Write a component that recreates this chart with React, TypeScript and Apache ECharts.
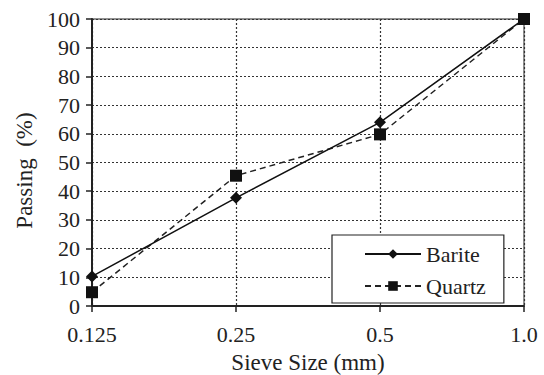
import React, { useEffect, useRef } from "react";
import * as echarts from "echarts";

const categories = ["0.125", "0.25", "0.5", "1.0"];
const barite = [10.3, 37.7, 64, 100];
const quartz = [4.8, 45.4, 59.8, 100];
const yTicks = { min: 0, max: 100, interval: 10 };

const FONT = "'Liberation Serif', 'Times New Roman', Times, serif";

export default function App() {
  const ref = useRef<HTMLDivElement>(null);
  useEffect(() => {
    document.body.style.margin = "0";
    if (!ref.current) return;
    const chart = echarts.init(ref.current, undefined, { renderer: "svg" });
    chart.setOption({
      animation: false,
      backgroundColor: "#fff",
      textStyle: { fontFamily: FONT, color: "#222" },
      grid: {
        left: 92,
        right: 20,
        top: 19,
        bottom: 69,
        containLabel: false,
        outerBoundsMode: "none",
        show: true,
        borderColor: "#222",
        borderWidth: 1,
      },
      legend: {
        orient: "vertical",
        left: 332,
        top: 235,
        width: 184,
        height: 65,
        padding: [8, 18, 6, 32],
        itemGap: 10,
        itemWidth: 56,
        itemHeight: 12,
        backgroundColor: "#fff",
        borderColor: "#222",
        borderWidth: 1.2,
        borderRadius: 0,
        textStyle: { fontFamily: FONT, fontSize: 22, color: "#222" },
        data: ["Barite", "Quartz"],
      },
      xAxis: {
        type: "category",
        data: categories,
        boundaryGap: false,
        name: "Sieve Size (mm)",
        nameLocation: "middle",
        nameGap: 45,
        nameTextStyle: { fontFamily: FONT, fontSize: 23, color: "#222" },
        axisLine: { lineStyle: { color: "#222", width: 2 } },
        axisTick: { show: true, length: 6, alignWithLabel: true, lineStyle: { color: "#222", width: 1.5 } },
        axisLabel: { fontFamily: FONT, fontSize: 22, color: "#222", margin: 17 },
        splitLine: { show: true, interval: 0, lineStyle: { color: "#333", type: [2, 2], width: 1.2 } },
      },
      yAxis: {
        type: "value",
        min: yTicks.min,
        max: yTicks.max,
        interval: yTicks.interval,
        name: "Passing  (%)",
        nameLocation: "middle",
        nameGap: 55,
        nameTextStyle: { fontFamily: FONT, fontSize: 23, color: "#222", padding: [0, 16, 0, 0] },
        axisLine: { show: true, lineStyle: { color: "#222", width: 2 } },
        axisTick: { show: true, length: 6, lineStyle: { color: "#222", width: 1.5 } },
        axisLabel: { fontFamily: FONT, fontSize: 22, color: "#222", margin: 12 },
        splitLine: { show: true, lineStyle: { color: "#333", type: [2, 2], width: 1.2 } },
      },
      series: [
        {
          name: "Barite",
          type: "line",
          data: barite,
          symbol: "diamond",
          symbolSize: 12,
          lineStyle: { color: "#111", width: 1.5, type: "solid" },
          itemStyle: { color: "#111" },
          z: 3,
        },
        {
          name: "Quartz",
          type: "line",
          data: quartz,
          symbol: "rect",
          symbolSize: 12,
          lineStyle: { color: "#222", width: 1.5, type: [6, 4] },
          itemStyle: { color: "#111" },
          z: 2,
        },
      ],
    });
    return () => chart.dispose();
  }, []);
  return <div ref={ref} style={{ width: 544, height: 375 }} />;
}
